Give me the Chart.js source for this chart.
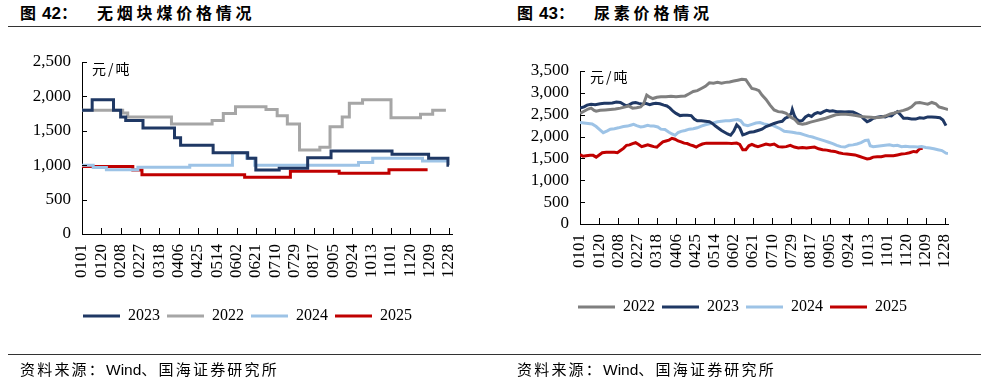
<!DOCTYPE html>
<html>
<head>
<meta charset="utf-8">
<script src="https://cdn.jsdelivr.net/npm/chart.js@4.4.1/dist/chart.umd.min.js"></script>
<style>
  html, body { margin: 0; padding: 0; background: #fff; }
  body { width: 990px; height: 392px; position: relative; overflow: hidden; font-family: "Noto Sans CJK SC", sans-serif; color: #000; }
  .abs { position: absolute; white-space: nowrap; }
  .ttl { top: 4px; font-size: 16px; line-height: 17px; font-weight: bold; }
  .num { font-family: "Liberation Sans", Arial, sans-serif; font-weight: bold; font-size: 17px; }
  .rule { position: absolute; left: 8px; width: 973px; height: 0; border-top: 1.5px solid #333; }
  .unit { font-size: 14px; letter-spacing: 2px; line-height: 16px; }
  .src { top: 360px; font-size: 15px; letter-spacing: 2.2px; line-height: 17px; }
  .src .w { font-family: "Liberation Sans", Arial, sans-serif; letter-spacing: 0; font-size: 15.5px; }
  canvas { position: absolute; top: 0; }
</style>
</head>
<body>

<div class="abs ttl" style="left:20px">图</div>
<div class="abs ttl" style="left:42px"><span class="num">42</span>：</div>
<div class="abs ttl" style="left:97px;letter-spacing:3.8px">无烟块煤价格情况</div>

<div class="abs ttl" style="left:517px">图</div>
<div class="abs ttl" style="left:539px"><span class="num">43</span>：</div>
<div class="abs ttl" style="left:594px;letter-spacing:3.8px">尿素价格情况</div>

<div class="rule" style="top:26px"></div>
<div class="rule" style="top:354px"></div>

<canvas id="coal" width="495" height="392" style="left:0"></canvas>
<canvas id="urea" width="495" height="392" style="left:495px"></canvas>

<div class="abs unit" style="left:92px;top:60px">元/吨</div>
<div class="abs unit" style="left:590px;top:68px">元/吨</div>

<div class="abs src" style="left:20px">资料来源：<span class="w">Wind</span>、国海证券研究所</div>
<div class="abs src" style="left:517px">资料来源：<span class="w">Wind</span>、国海证券研究所</div>

<script>
  const SERIF = '"Liberation Serif", "Times New Roman", serif';

  /* ── 横轴刻度（月日） ── */
  const xTickLabels = ['0101', '0120', '0208', '0227', '0318', '0406', '0425', '0514', '0602', '0621',
    '0710', '0729', '0817', '0905', '0924', '1013', '1101', '1120', '1209', '1228'];
  const coalYTicks = [0, 500, 1000, 1500, 2000, 2500];
  const ureaYTicks = [0, 500, 1000, 1500, 2000, 2500, 3000, 3500];

  /* ── 无烟块煤（阶梯）：[年内第几天(0=0101), 元/吨] ── */
  const coal2023 = [[0, 1800], [10, 1950], [31, 1800], [38, 1700], [43, 1650], [60, 1540], [91, 1400], [97, 1290],
    [129, 1180], [163, 1100], [171, 930], [194, 955], [222, 1110], [245, 1205], [305, 1160], [341, 1100], [360, 1000], [361, 1000]];
  const coal2022 = [[0, 1800], [40, 1760], [45, 1700], [88, 1600], [128, 1650], [139, 1750], [151, 1850], [181, 1810],
    [192, 1720], [202, 1600], [214, 1220], [234, 1260], [244, 1560], [256, 1700], [263, 1900], [276, 1950], [304, 1690],
    [333, 1740], [345, 1800], [358, 1800]];
  const coal2024 = [[0, 1000], [11, 965], [24, 935], [55, 970], [106, 1000], [148, 1180], [162, 1100], [170, 1000],
    [272, 1040], [286, 1100], [335, 1060], [359, 1060]];
  const coal2025 = [[0, 980], [50, 930], [59, 860], [160, 825], [205, 912], [253, 882], [302, 935], [340, 935]];

  /* ── 尿素：[年内第几天, 元/吨] ── */
  const urea2022 = [[0, 2530], [4, 2580], [8, 2630], [11, 2650], [14, 2600], [16, 2580], [20, 2600], [25, 2610], [30, 2620],
    [35, 2630], [40, 2650], [45, 2680], [48, 2700], [52, 2650], [56, 2660], [60, 2680], [63, 2750], [66, 2950], [69, 2900],
    [72, 2870], [76, 2900], [80, 2910], [85, 2910], [90, 2920], [95, 2910], [100, 2920], [104, 2930], [108, 2980], [112, 3030],
    [116, 3050], [120, 3100], [124, 3150], [128, 3230], [132, 3220], [136, 3240], [140, 3220], [144, 3240], [148, 3250],
    [152, 3270], [156, 3290], [160, 3310], [164, 3300], [167, 3200], [170, 3100], [174, 3080], [177, 3050], [180, 2950],
    [184, 2850], [188, 2720], [192, 2610], [196, 2570], [200, 2560], [204, 2530], [208, 2450], [212, 2400], [216, 2300],
    [220, 2280], [224, 2300], [228, 2330], [233, 2360], [238, 2390], [243, 2420], [248, 2460], [253, 2500], [258, 2510],
    [263, 2510], [268, 2500], [273, 2480], [278, 2460], [283, 2450], [288, 2440], [292, 2430], [297, 2440], [302, 2470],
    [307, 2520], [311, 2540], [315, 2570], [320, 2600], [324, 2630], [328, 2680], [332, 2770], [336, 2780], [340, 2760],
    [344, 2740], [348, 2780], [352, 2750], [355, 2680], [358, 2660], [361, 2640], [364, 2620]];
  const urea2023 = [[0, 2650], [4, 2680], [7, 2720], [11, 2740], [15, 2730], [20, 2750], [24, 2760], [28, 2760], [32, 2770],
    [36, 2790], [40, 2780], [43, 2740], [46, 2700], [49, 2730], [52, 2770], [55, 2780], [58, 2760], [62, 2740], [65, 2760],
    [69, 2730], [72, 2750], [75, 2760], [79, 2750], [83, 2720], [86, 2700], [89, 2650], [92, 2580], [95, 2530], [99, 2480],
    [102, 2490], [106, 2490], [110, 2480], [113, 2400], [116, 2360], [120, 2360], [124, 2350], [128, 2340], [131, 2300],
    [134, 2240], [137, 2190], [140, 2140], [143, 2100], [146, 2060], [149, 2030], [152, 2120], [155, 2270], [158, 2200],
    [161, 2040], [164, 2060], [168, 2100], [172, 2110], [176, 2140], [180, 2170], [184, 2230], [188, 2260], [192, 2300],
    [196, 2330], [200, 2350], [203, 2420], [206, 2450], [209, 2530], [210, 2620], [212, 2480], [214, 2400], [217, 2350],
    [220, 2370], [223, 2450], [226, 2490], [229, 2460], [232, 2520], [235, 2550], [238, 2530], [241, 2570], [244, 2600],
    [247, 2580], [250, 2590], [254, 2570], [258, 2570], [262, 2560], [266, 2570], [270, 2560], [274, 2520], [278, 2470],
    [281, 2400], [284, 2340], [287, 2370], [290, 2420], [294, 2440], [298, 2460], [302, 2450], [305, 2480], [308, 2470],
    [311, 2530], [314, 2570], [317, 2500], [320, 2420], [324, 2420], [328, 2400], [332, 2400], [336, 2430], [340, 2420],
    [344, 2450], [348, 2450], [352, 2440], [356, 2430], [359, 2380], [362, 2250]];
  const urea2024 = [[0, 2320], [4, 2310], [8, 2300], [12, 2290], [16, 2230], [20, 2150], [23, 2090], [27, 2130], [30, 2170],
    [34, 2180], [38, 2200], [43, 2230], [47, 2240], [50, 2260], [53, 2280], [56, 2250], [60, 2220], [63, 2230], [67, 2260],
    [70, 2240], [73, 2240], [77, 2220], [80, 2170], [84, 2160], [88, 2100], [91, 2060], [94, 2030], [97, 2090], [100, 2120],
    [104, 2140], [108, 2170], [112, 2180], [116, 2200], [120, 2240], [124, 2270], [128, 2290], [132, 2310], [136, 2340],
    [140, 2350], [144, 2360], [148, 2360], [152, 2380], [156, 2390], [159, 2360], [162, 2270], [166, 2250], [170, 2280],
    [174, 2310], [178, 2320], [182, 2290], [186, 2270], [190, 2260], [194, 2220], [198, 2180], [202, 2120], [206, 2110],
    [210, 2100], [214, 2080], [218, 2070], [222, 2040], [226, 2010], [230, 1990], [234, 1960], [238, 1930], [242, 1900],
    [246, 1870], [250, 1840], [254, 1800], [258, 1770], [262, 1760], [266, 1800], [270, 1810], [274, 1830], [278, 1860],
    [282, 1910], [285, 1920], [287, 1790], [290, 1770], [294, 1780], [298, 1790], [302, 1800], [306, 1810], [310, 1790],
    [314, 1800], [318, 1770], [322, 1780], [326, 1770], [330, 1770], [334, 1760], [338, 1770], [342, 1750], [346, 1740],
    [350, 1720], [354, 1700], [358, 1680], [362, 1620], [364, 1610]];
  const urea2025 = [[0, 1590], [3, 1550], [6, 1560], [10, 1570], [13, 1570], [16, 1530], [19, 1580], [22, 1630], [26, 1640],
    [30, 1640], [34, 1640], [37, 1630], [40, 1680], [43, 1730], [46, 1800], [49, 1810], [52, 1840], [55, 1860], [58, 1820],
    [61, 1770], [64, 1790], [67, 1810], [70, 1790], [73, 1770], [76, 1760], [79, 1820], [82, 1880], [85, 1900], [88, 1920],
    [91, 1960], [94, 1940], [97, 1900], [100, 1880], [103, 1850], [106, 1840], [109, 1810], [112, 1790], [115, 1760],
    [118, 1800], [121, 1830], [125, 1850], [130, 1850], [135, 1850], [140, 1850], [145, 1850], [150, 1840], [155, 1850],
    [158, 1820], [161, 1700], [164, 1700], [167, 1790], [170, 1820], [173, 1790], [176, 1770], [180, 1800], [184, 1830],
    [188, 1810], [192, 1830], [196, 1770], [200, 1760], [204, 1770], [208, 1800], [212, 1760], [216, 1740], [220, 1750],
    [224, 1740], [228, 1750], [232, 1760], [236, 1720], [240, 1700], [244, 1690], [248, 1670], [252, 1660], [256, 1630],
    [260, 1610], [264, 1600], [268, 1590], [272, 1580], [276, 1550], [280, 1520], [284, 1490], [287, 1500], [290, 1530],
    [294, 1540], [298, 1540], [302, 1560], [306, 1560], [310, 1560], [314, 1580], [318, 1600], [322, 1610], [326, 1630],
    [330, 1660], [333, 1650], [336, 1720], [339, 1730]];

  const NAVY = '#1F3864', RED = '#C00000', LBLUE = '#9DC3E6';

  /* 'MMDD' → 年内第几天 */
  const CUM = [0, 31, 59, 90, 120, 151, 181, 212, 243, 273, 304, 334];
  function dayOfYear(s) { return CUM[parseInt(s.slice(0, 2), 10) - 1] + parseInt(s.slice(2), 10) - 1; }

  /* 刻度线画在坐标轴内侧 */
  const innerTicks = {
    id: 'innerTicks',
    afterDraw(chart) {
      const { ctx, chartArea: a, scales: { x, y } } = chart;
      ctx.save();
      ctx.strokeStyle = '#000';
      ctx.lineWidth = 1;
      ctx.beginPath();
      x.ticks.forEach(function (t, i) {
        const px = Math.round(x.getPixelForTick(i)) + 0.5;
        ctx.moveTo(px, a.bottom); ctx.lineTo(px, a.bottom - 6);
      });
      y.ticks.forEach(function (t, i) {
        const py = Math.round(y.getPixelForTick(i)) + 0.5;
        ctx.moveTo(a.left, py); ctx.lineTo(a.left + 5, py);
      });
      ctx.stroke();
      ctx.restore();
    }
  };

  function makeChart(id, cfg) {
    /* 图例整体居中在画布中线上（不是绘图区中线） */
    const legendCenter = {
      id: 'legendCenter',
      afterLayout(chart) {
        const lg = chart.legend;
        const dx = chart.width / 2 - (lg.left + lg.right) / 2;
        lg.left += dx; lg.right += dx;
      }
    };
    return new Chart(document.getElementById(id), {
      type: 'line',
      data: {
        datasets: cfg.series.map(function (s) {
          return {
            label: s.label,
            data: s.data.map(function (p) { return { x: p[0], y: p[1] }; }),
            borderColor: s.color, backgroundColor: s.color,
            borderWidth: 3, pointRadius: 0, tension: 0, stepped: cfg.stepped
          };
        })
      },
      options: {
        responsive: false, animation: false, devicePixelRatio: 1,
        layout: { padding: cfg.padding },
        plugins: {
          tooltip: { enabled: false },
          legend: {
            position: 'bottom',
            labels: {
              boxWidth: 37, boxHeight: 3, padding: 7, color: '#000',
              font: { family: SERIF, size: 16 },
              generateLabels: function (chart) {
                const items = Chart.defaults.plugins.legend.labels.generateLabels(chart);
                items.forEach(function (it) { it.lineWidth = 0; });
                return items;
              }
            }
          }
        },
        scales: {
          x: {
            type: 'linear', min: 0, max: 364,
            grid: { display: false, drawTicks: false },
            border: { color: '#000', width: 1 },
            afterBuildTicks: function (sc) { sc.ticks = xTickLabels.map(function (l) { return { value: dayOfYear(l) }; }); },
            afterFit: function (sc) { sc.height = cfg.xHeight; },
            ticks: {
              autoSkip: false, minRotation: 90, maxRotation: 90, padding: 10, color: '#000',
              font: { family: SERIF, size: 17 },
              callback: function (v, i) { return xTickLabels[i]; }
            }
          },
          y: {
            min: 0, max: cfg.yTicks[cfg.yTicks.length - 1],
            grid: { display: false, drawTicks: false },
            border: { color: '#000', width: 1 },
            afterBuildTicks: function (sc) { sc.ticks = cfg.yTicks.map(function (v) { return { value: v }; }); },
            afterFit: function (sc) { sc.width = cfg.yWidth; },
            ticks: {
              autoSkip: false, padding: 11, color: '#000',
              font: { family: SERIF, size: 17 },
              callback: function (v) { return Number(v).toLocaleString('en-US'); }
            }
          }
        }
      },
      plugins: [innerTicks, legendCenter]
    });
  }

  makeChart('coal', {
    stepped: true,
    yTicks: coalYTicks,
    yWidth: 82, xHeight: 67,
    padding: { top: 62, left: 0, right: 43, bottom: 58 },
    series: [
      { label: '2023', data: coal2023, color: NAVY },
      { label: '2022', data: coal2022, color: '#A6A6A6' },
      { label: '2024', data: coal2024, color: LBLUE },
      { label: '2025', data: coal2025, color: RED }
    ]
  });

  makeChart('urea', {
    stepped: false,
    yTicks: ureaYTicks,
    yWidth: 85, xHeight: 68,
    padding: { top: 71, left: 0, right: 42, bottom: 67 },
    series: [
      { label: '2022', data: urea2022, color: '#7F7F7F' },
      { label: '2023', data: urea2023, color: NAVY },
      { label: '2024', data: urea2024, color: LBLUE },
      { label: '2025', data: urea2025, color: RED }
    ]
  });
</script>
</body>
</html>
